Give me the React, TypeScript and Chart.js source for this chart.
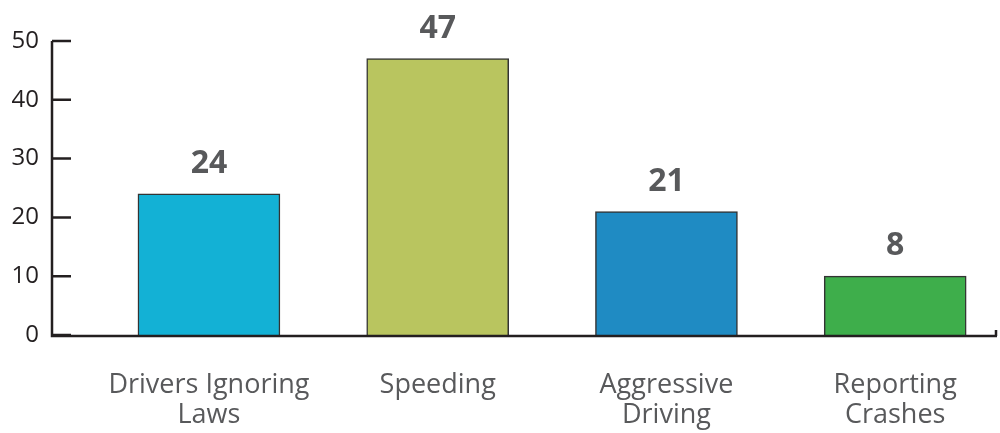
import React, { useEffect, useRef } from "react";
import { Chart, registerables } from "chart.js";

Chart.register(...registerables);

const categories: string[][] = [
  ["Drivers Ignoring", "Laws"],
  ["Speeding"],
  ["Aggressive", "Driving"],
  ["Reporting", "Crashes"],
];
const barValues: number[] = [24, 47, 21, 10];
const valueLabels: string[] = ["24", "47", "21", "8"];
const barColors: string[] = ["#13B1D5", "#B9C55F", "#1F8BC3", "#3EAE4B"];
const yTicks: number[] = [0, 10, 20, 30, 40, 50];

const axesPlugin = {
  id: "customAxes",
  afterDatasetsDraw(chart: any) {
    const { ctx, chartArea, scales } = chart;
    const y = scales.y;
    ctx.save();
    ctx.strokeStyle = "#231F20";
    ctx.lineWidth = 2.5;
    ctx.lineCap = "butt";
    ctx.beginPath();
    ctx.moveTo(chartArea.left, chartArea.top);
    ctx.lineTo(chartArea.left, chartArea.bottom + 1);
    ctx.lineTo(chartArea.right, chartArea.bottom + 1);
    ctx.moveTo(chartArea.right - 1, chartArea.bottom + 1);
    ctx.lineTo(chartArea.right - 1, chartArea.bottom - 5);
    yTicks.forEach((v) => {
      const py = y.getPixelForValue(v);
      ctx.moveTo(chartArea.left, py);
      ctx.lineTo(chartArea.left + 19, py);
    });
    ctx.stroke();

    const meta = chart.getDatasetMeta(0);
    ctx.fillStyle = "#58595B";
    ctx.font = "bold 32px 'Open Sans'";
    ctx.textAlign = "center";
    ctx.textBaseline = "alphabetic";
    meta.data.forEach((bar: any, i: number) => {
      ctx.fillText(valueLabels[i], bar.x, bar.y - 21);
    });
    ctx.restore();
  },
};

export default function App() {
  const ref = useRef<HTMLCanvasElement | null>(null);
  useEffect(() => {
    if (!ref.current) return;
    const chart = new Chart(ref.current, {
      type: "bar",
      data: {
        datasets: [
          {
            data: barValues.map((v, i) => ({ x: i + 1, y: v })),
            backgroundColor: barColors,
            borderColor: "#333333",
            borderWidth: 1.5,
            barThickness: 142,
          },
        ],
      },
      options: {
        animation: false,
        responsive: false,
        maintainAspectRatio: false,
        layout: { padding: { top: 41, right: 3, left: 0, bottom: 0 } },
        plugins: {
          legend: { display: false },
          tooltip: { enabled: false },
        },
        scales: {
          x: {
            type: "linear",
            min: 0.314,
            max: 4.445,
            offset: false,
            bounds: "ticks",
            grid: { display: false, drawTicks: false, offset: false },
            border: { display: false },
            afterBuildTicks: (scale: any) => {
              scale.ticks = categories.map((_, i) => ({ value: i + 1 }));
            },
            afterFit: (scale: any) => {
              scale.height = 98;
            },
            ticks: {
              autoSkip: false,
              maxRotation: 0,
              padding: 35,
              color: "#58595B",
              font: { family: "'Open Sans'", size: 27, lineHeight: 1.11 },
              callback: (v: any) => {
                const idx = Math.round(Number(v)) - 1;
                return categories[idx] ?? "";
              },
            },
          },
          y: {
            min: 0,
            max: 50,
            grid: { display: false, drawTicks: false },
            border: { display: false },
            afterFit: (scale: any) => {
              scale.width = 52;
            },
            ticks: {
              stepSize: 10,
              padding: 13,
              color: "#231F20",
              font: { family: "'Open Sans'", size: 24 },
            },
          },
        },
      },
      plugins: [axesPlugin],
    });
    return () => chart.destroy();
  }, []);
  return (
    <div style={{ position: "fixed", left: 0, top: 0, width: 1000, height: 433, background: "#fff" }}>
      <canvas ref={ref} width={1000} height={433} style={{ width: 1000, height: 433 }} />
    </div>
  );
}
